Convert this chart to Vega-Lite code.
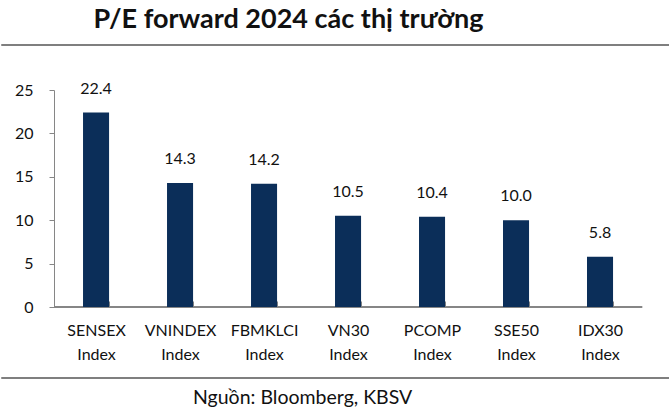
{
  "$schema": "https://vega.github.io/schema/vega-lite/v6.json",
  "padding": {"left": 0, "top": 5, "right": 0, "bottom": 0},
  "autosize": {"type": "pad"},
  "bounds": "flush",
  "align": "none",
  "columns": 1,
  "spacing": 45,
  "config": {"view": {"stroke": null}, "font": "Lato"},
  "title": {"text": "P/E forward 2024 các thị trường", "anchor": "start", "frame": "bounds", "dx": 93, "fontSize": 27, "fontWeight": "bold", "color": "#111111", "baseline": "bottom", "offset": -17, "font": "Lato"},
  "concat": [
    {
      "width": 669,
      "height": 1,
      "view": {"stroke": "#7f7f7f", "strokeWidth": 1},
      "data": {"values": []},
      "mark": {"type": "text"},
      "encoding": {}
    },
    {
      "spacing": 70,
      "bounds": "flush",
      "align": "none",
      "columns": 1,
      "concat": [
        {
          "width": 643,
          "height": 217,
          "data": {"values": [
            {"index": "SENSEX Index", "pe": 22.4},
            {"index": "VNINDEX Index", "pe": 14.3},
            {"index": "FBMKLCI Index", "pe": 14.2},
            {"index": "VN30 Index", "pe": 10.5},
            {"index": "PCOMP Index", "pe": 10.4},
            {"index": "SSE50 Index", "pe": 10.0},
            {"index": "IDX30 Index", "pe": 5.8}
          ]},
          "encoding": {
            "x": {"field": "index", "type": "nominal", "sort": null,
              "scale": {"domain": ["SENSEX Index", "VNINDEX Index", "FBMKLCI Index", "VN30 Index", "PCOMP Index", "SSE50 Index", "IDX30 Index"], "paddingInner": 0.69, "paddingOuter": 0.6726, "align": 0.726},
              "axis": {"title": null, "labelAngle": 0, "labelExpr": "split(datum.label, ' ')", "labelFontSize": 16, "labelColor": "#111111", "labelLineHeight": 24, "tickBand": "extent", "tickSize": -6, "labelPadding": 21, "domain": false, "tickColor": "#868686"}},
            "y": {"field": "pe", "type": "quantitative",
              "scale": {"domain": [0, 25], "nice": false},
              "axis": {"title": null, "offset": -53, "values": [0, 5, 10, 15, 20, 25], "grid": false, "labelFontSize": 16, "labelPadding": 16, "tickSize": 5, "domainColor": "#868686", "tickColor": "#868686", "labelColor": "#111111"}}
          },
          "layer": [
            {"mark": {"type": "rule", "color": "#868686", "strokeWidth": 1.5},
             "encoding": {"x": {"datum": "SENSEX Index", "bandPosition": -1.115}, "x2": {"datum": "IDX30 Index", "bandPosition": 2.115}, "y": {"datum": 0}}},
            {"mark": {"type": "bar", "color": "#0B2E59"}},
            {"mark": {"type": "text", "baseline": "alphabetic", "dy": -19, "fontSize": 16, "color": "#111111"},
             "encoding": {"text": {"field": "pe", "type": "quantitative", "format": ".1f"}}}
          ]
        },
        {
          "width": 669,
          "height": 1,
          "view": {"stroke": "#7f7f7f", "strokeWidth": 1},
          "title": {"text": "Nguồn: Bloomberg, KBSV", "orient": "bottom", "anchor": "start", "dx": 192, "fontSize": 19.5, "fontWeight": "normal", "color": "#111111", "baseline": "top", "offset": 11, "font": "Lato"},
          "data": {"values": []},
          "mark": {"type": "text"},
          "encoding": {}
        }
      ]
    }
  ]
}
